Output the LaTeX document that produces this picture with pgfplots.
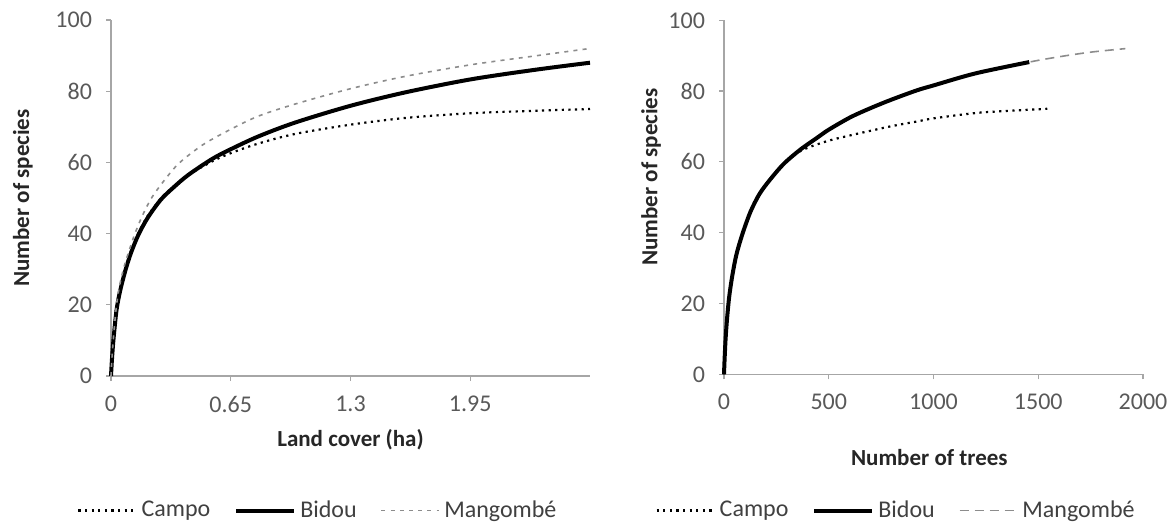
\documentclass[border=0pt]{standalone}
\usepackage{pgfplots}
\pgfplotsset{compat=1.18}
\usepackage{fontspec}
\setmainfont{Carlito}

\definecolor{axisgray}{HTML}{A6A6A6}
\definecolor{ticktext}{HTML}{595959}
\definecolor{legtext}{HTML}{404040}
\definecolor{manggray}{HTML}{8C8C8C}

% shared look of both panels
\pgfplotsset{
  curves/.style={
    scale only axis,
    anchor=south west,
    axis lines=left,
    axis line style={-, draw=axisgray, line width=0.6bp},
    tick style={draw=axisgray, line width=0.6bp},
    tick align=outside,
    major tick length=2.5bp,
    ymin=0, ymax=100,
    ytick={0,20,...,100},
    ticklabel style={font=\fontsize{12bp}{14bp}\selectfont, text=ticktext},
    yticklabel style={xshift=-3.5bp},
    xticklabel style={yshift=-4bp},
    /pgf/number format/assume math mode=true,
    /pgf/number format/1000 sep={},
    label style={font=\bfseries\fontsize{11.5bp}{13bp}\selectfont, text=black!85},
    clip=false,
    legend columns=3,
    legend cell align=left,
    legend style={draw=none, fill=none, anchor=center,
      font=\fontsize{12bp}{14bp}\selectfont, text=legtext,
      /tikz/every even column/.append style={column sep=10bp},
      inner sep=0pt},
    legend image code/.code={\draw[##1] (0bp,0bp) -- (29bp,0bp);},
  },
  campo/.style={black, line width=1.1bp, dash pattern=on 1.1bp off 2.2bp, smooth},
  bidou/.style={black, line width=2bp, smooth},
}

\pgfplotstableread{
x y
0 0
0.005 5
0.012 10.5
0.03 19
0.05 24.5
0.08 30.5
0.11 35.3
0.15 40.3
0.2 45
0.27 49.8
0.34 53.2
0.42 56.5
0.55 60.3
0.65 62.6
0.8 65.3
1.0 68
1.3 70.6
1.6 72.5
1.95 73.8
2.3 74.5
2.6 75
}\campoha

\pgfplotstableread{
x y
0 0
0.005 4.5
0.013 10
0.03 18.5
0.05 24
0.08 30
0.11 34.8
0.15 39.8
0.2 44.5
0.27 49.5
0.34 53
0.42 56.5
0.55 61
0.65 63.7
0.8 67.3
1.0 71.2
1.3 75.9
1.6 79.7
1.95 83.3
2.3 86
2.6 88
}\bidouha

\pgfplotstableread{
x y
0 0
0.005 4.8
0.012 10
0.028 19
0.045 25
0.07 30.5
0.1 35.5
0.13 40
0.17 45
0.22 50
0.29 55
0.37 59.8
0.5 65
0.65 69.3
0.8 73
1.0 76.4
1.3 80.7
1.6 84.2
1.95 87.4
2.3 89.9
2.6 92
}\mangha

\pgfplotstableread{
x y
0 0
3 4.5
8 10.4
15 16
25 22
40 28
60 34
90 40
127 46
170 51
220 55
286 59.5
340 62.2
400 64
500 66
603 67.5
700 68.8
800 70.1
920 71.4
1000 72.3
1200 73.8
1350 74.4
1543 75
}\campotr

\pgfplotstableread{
x y
0 0
3 4.5
8 10.4
15 16
25 22
40 28
60 34
90 40
127 46
170 51
220 55
286 59.5
365 63.5
444 66.8
500 69.1
603 72.6
700 75.2
800 77.6
920 80.2
1000 81.6
1200 85
1457 88.2
}\bidoutr

\pgfplotstableread{
x y
0 0
3 4.5
8 10.4
15 16
25 22
40 28
60 34
90 40
127 46
170 51
220 55
286 59.5
365 63.5
444 66.8
500 69.1
603 72.6
700 75.2
800 77.6
920 80.2
1000 81.6
1200 85
1457 88.2
1600 89.7
1750 91
1916 92
}\mangtr

\begin{document}
\begin{tikzpicture}
\path[use as bounding box] (0,0) rectangle (585bp,262.5bp);

% left panel: land cover
\begin{axis}[curves,
  at={(55.5bp,74.5bp)}, width=239.5bp, height=178bp,
  xmin=0, xmax=2.6,
  xtick={0,0.65,1.3,1.95},
  xticklabels={0,0.65,1.3,1.95},
  xlabel={Land cover (ha)},
  ylabel={Number of species},
  xlabel style={at={(axis description cs:0.5,-0.18)}, anchor=center},
  ylabel style={at={(axis description cs:-0.184,0.5)}, anchor=center, rotate=0},
  legend style={at={(0.434,-0.378)}},
]
\addplot[campo] table {\campoha};
\addlegendentry{Campo}
\addplot[bidou] table {\bidouha};
\addlegendentry{Bidou}
\addplot[manggray, line width=0.8bp, dash pattern=on 2bp off 2.6bp, smooth] table {\mangha};
\addlegendentry{Mangombé}
\end{axis}

% right panel: number of trees
\begin{axis}[curves,
  at={(362bp,75.35bp)}, width=209.5bp, height=177bp,
  xmin=0, xmax=2000,
  xtick={0,500,...,2000},
  xlabel={Number of trees},
  ylabel={Number of species},
  xlabel style={at={(axis description cs:0.49,-0.236)}, anchor=center},
  ylabel style={at={(axis description cs:-0.174,0.557)}, anchor=center, rotate=0},
  legend style={at={(0.413,-0.385)}},
]
\addplot[manggray, line width=0.8bp, dash pattern=on 4.5bp off 3bp, smooth, forget plot] table {\mangtr};
\addplot[campo] table {\campotr};
\addlegendentry{Campo}
\addplot[bidou] table {\bidoutr};
\addlegendentry{Bidou}
\addlegendimage{manggray, line width=0.8bp, dash pattern=on 4.5bp off 3bp}
\addlegendentry{Mangombé}
\end{axis}
\end{tikzpicture}
\end{document}
